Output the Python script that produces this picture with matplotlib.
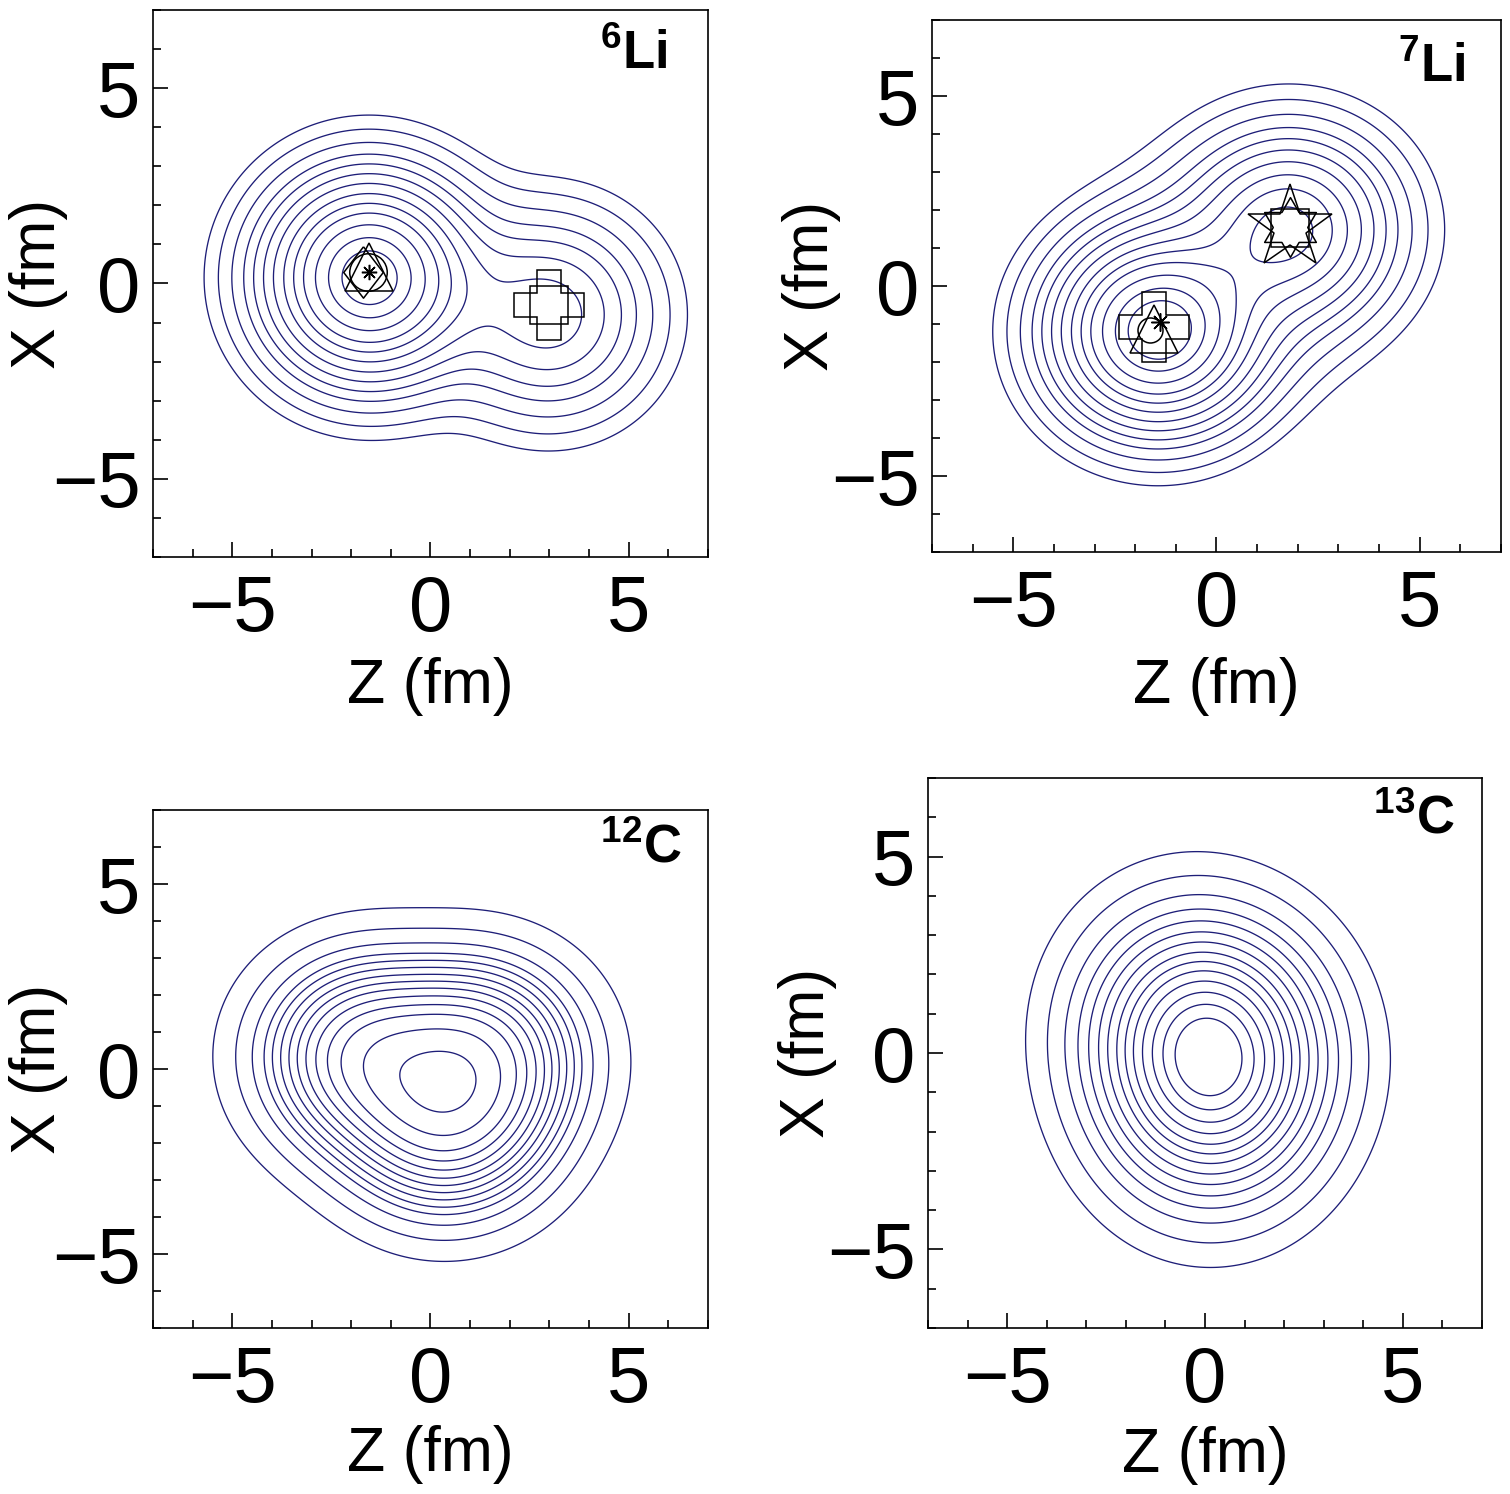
import numpy as np
import matplotlib
matplotlib.use('Agg')
import matplotlib.pyplot as plt
from matplotlib.path import Path
from matplotlib.ticker import MultipleLocator

plt.rcParams['font.family'] = ['Liberation Sans', 'DejaVu Sans']
plt.rcParams['mathtext.fontset'] = 'custom'
plt.rcParams['mathtext.rm'] = 'Liberation Sans'
plt.rcParams['mathtext.bf'] = 'Liberation Sans:bold'

# ---------------- data ----------------
labels = [r'$^{\mathbf{6}}\mathbf{Li}$', r'$^{\mathbf{7}}\mathbf{Li}$',
          r'$^{\mathbf{12}}\mathbf{C}$', r'$^{\mathbf{13}}\mathbf{C}$']
ticks_major = [-5, 0, 5]

# density components: centre (Z, X) in fm, relative amplitude,
# widths along Z and X (fm)
li6_z = [-1.55, 3.0]
li6_x = [0.15, -0.8]
li6_amp = [1.0, 0.31]
li6_bz = [2.1, 2.1]
li6_bx = [2.1, 2.1]

# 7Li: alpha core, alpha halo, triton core, triton halo
li7_z = [-1.45, -1.45, 1.8, 1.8]
li7_x = [-1.2, -1.2, 1.5, 1.5]
li7_amp = [1.0, 0.3, 0.455, 0.27]
li7_bz = [1.9, 2.8, 1.8, 2.8]
li7_bx = [1.9, 2.8, 1.8, 2.8]

c12_z = [-1.6, 1.12, 0.35]
c12_x = [0.35, 0.35, -1.3]
c12_amp = [1.0, 1.0, 1.0]
c12_bz = [2.0, 2.0, 2.0]
c12_bx = [2.0, 2.0, 2.0]

c13_z = [-0.5, 0.6, 0.1]
c13_x = [0.75, 0.12, -1.2]
c13_amp = [1.0, 1.0, 1.0]
c13_bz = [2.3, 2.3, 2.3]
c13_bx = [2.5, 2.5, 2.5]

# contour crossings read along a horizontal line X = const (Z positions, fm)
li6_line_x = 0.16
li6_cross_z = [-5.71, -5.35, -5.01, -4.71, -4.46, -4.21, -3.96, -3.70,
               -3.45, -3.20, -2.90, -2.57, -2.23]
li7_line_x = -1.0
li7_cross_z = [-5.50, -5.15, -4.82, -4.53, -4.29, -4.05, -3.81, -3.56,
               -3.32, -3.08, -2.79, -2.47, -2.15]
c12_line_x = -0.05
c12_cross_z = [-5.47, -4.89, -4.47, -4.17, -3.96, -3.75, -3.54, -3.33,
               -3.11, -2.86, -2.57, -2.23, -1.68, -0.76]
c13_line_x = 0.08
c13_cross_z = [-4.53, -3.98, -3.54, -3.21, -2.94, -2.69, -2.46, -2.23,
               -2.02, -1.81, -1.58, -1.33, -1.06, -0.75]

# cluster-centre markers: (Z, X)
li6_triangle = (-1.54, 0.41)
li6_diamond = (-1.69, 0.30)
li6_circle = (-1.57, 0.29)
li6_aster = (-1.54, 0.29)
li6_cross = (3.0, -0.56)
li6_square = (3.0, -0.55)

li7_cross = (-1.54, -1.08)
li7_triangle = (-1.54, -1.14)
li7_circle = (-1.63, -1.16)
li7_aster = (-1.38, -0.94)
li7_star = (1.80, 1.54)
li7_square = (1.82, 1.54)
li7_hexa = (1.80, 1.55)

# ---------------- drawing ----------------
fig = plt.figure(figsize=(15.10, 14.94), dpi=100)
rects = [[0.1013, 0.6272, 0.3675, 0.3661],
         [0.6172, 0.6305, 0.3768, 0.3561],
         [0.1013, 0.1111, 0.3675, 0.3467],
         [0.6146, 0.1111, 0.3669, 0.3681]]
xlab_y = [-0.236, -0.252, -0.245, -0.231]
ylab_x = [-0.207, -0.211, -0.207, -0.217]
lab_pos = [(0.928, 0.966), (0.937, 0.957), (0.953, 0.975), (0.951, 0.972)]

panels = [
    (li6_z, li6_x, li6_amp, li6_bz, li6_bx, li6_line_x, li6_cross_z),
    (li7_z, li7_x, li7_amp, li7_bz, li7_bx, li7_line_x, li7_cross_z),
    (c12_z, c12_x, c12_amp, c12_bz, c12_bx, c12_line_x, c12_cross_z),
    (c13_z, c13_x, c13_amp, c13_bz, c13_bx, c13_line_x, c13_cross_z),
]


def density(Z, X, zc, xc, amp, bz, bx):
    out = np.zeros_like(Z, dtype=float)
    for z0, x0, a, wz, wx in zip(zc, xc, amp, bz, bx):
        out += a * np.exp(-((Z - z0) / wz) ** 2 - ((X - x0) / wx) ** 2)
    return out


g = np.linspace(-7, 7, 561)
ZZ, XX = np.meshgrid(g, g)
line_col = '#1e1e78'

axes = []
for i, (zc, xc, amp, bz, bx, lx, cz) in enumerate(panels):
    ax = fig.add_axes(rects[i])
    axes.append(ax)
    rho = density(ZZ, XX, zc, xc, amp, bz, bx)
    cz = np.asarray(cz)
    lev = density(cz, np.full_like(cz, lx), zc, xc, amp, bz, bx)
    lev = np.unique(np.sort(lev))
    ax.contour(ZZ, XX, rho, levels=lev, colors=line_col, linewidths=0.95)
    ax.set_xlim(-7, 7)
    ax.set_ylim(-7, 7)
    ax.set_xticks(ticks_major)
    ax.set_yticks(ticks_major)
    ax.xaxis.set_minor_locator(MultipleLocator(1))
    ax.yaxis.set_minor_locator(MultipleLocator(1))
    ax.tick_params(which='both', direction='in', top=False, right=False,
                   width=1.2, labelsize=56)
    ax.tick_params(which='major', length=11)
    ax.tick_params(which='minor', length=5.5)
    ax.tick_params(axis='x', pad=12)
    ax.tick_params(axis='y', pad=9)
    for sp in ax.spines.values():
        sp.set_linewidth(1.2)
    ax.set_xlabel('Z (fm)', fontsize=45)
    ax.set_ylabel('X (fm)', fontsize=45)
    ax.xaxis.set_label_coords(0.5, xlab_y[i])
    ax.xaxis.label.set_va('center')
    ax.yaxis.set_label_coords(ylab_x[i], 0.5)
    ax.yaxis.label.set_va('center')
    ax.text(lab_pos[i][0], lab_pos[i][1], labels[i], transform=ax.transAxes,
            ha='right', va='top', fontsize=38)

mk = dict(color='black', mfc='none', mew=1.1, ls='none')
diamond = [(0, 1.3), (1, 0), (0, -1.3), (-1, 0), (0, 1.3)]
hexagram = Path.unit_regular_star(6, 0.57735)

a = axes[0]
a.plot(*li6_triangle, marker='^', ms=35, **mk)
a.plot(*li6_diamond, marker=diamond, ms=37, **mk)
a.plot(*li6_circle, marker='o', ms=27, **mk)
a.plot(*li6_aster, marker=(8, 2, 0), ms=11, **mk)
a.plot(*li6_cross, marker='P', ms=50, **mk)
a.plot(*li6_square, marker='s', ms=27, **mk)

a = axes[1]
a.plot(*li7_cross, marker='P', ms=51, **mk)
a.plot(*li7_triangle, marker='^', ms=35, **mk)
a.plot(*li7_circle, marker='o', ms=18, **mk)
a.plot(*li7_aster, marker=(8, 2, 0), ms=13, **mk)
a.plot(*li7_star, marker='*', ms=63, **mk)
a.plot(*li7_square, marker='s', ms=27, **mk)
a.plot(*li7_hexa, marker=hexagram, ms=43, **mk)

fig.savefig('out.png', dpi=100)
